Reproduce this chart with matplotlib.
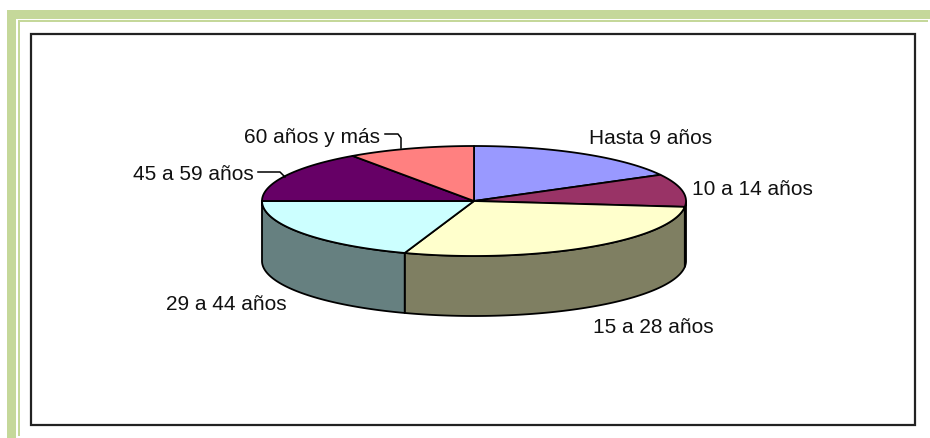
import numpy as np
import matplotlib
matplotlib.use("Agg")
import matplotlib.pyplot as plt
from matplotlib.patches import Rectangle

categories = ["Hasta 9 años", "10 a 14 años", "15 a 28 años", "29 a 44 años", "45 a 59 años", "60 años y más"]
values = [17.1, 9.6, 28.6, 19.7, 15.3, 9.7]
top_colors = ["#9999FF", "#993366", "#FFFFCC", "#CCFFFF", "#660066", "#FF8080"]
wall_colors = ["#4D4D80", "#4D1A33", "#7F7F62", "#668080", "#330033", "#804040"]

# pie geometry in picture pixels
cx, cy = 474, 202
rx, ry = 212, 55
depth = 60

plt.rcParams["font.family"] = ["Liberation Sans", "DejaVu Sans"]

fig = plt.figure(figsize=(9.3, 4.39), dpi=100)
ax = fig.add_axes([0, 0, 1, 1])
ax.set_xlim(0, 930)
ax.set_ylim(439, 0)
ax.axis("off")

# page frames
ax.add_patch(Rectangle((7, 11), 923, 428, fc="#C5D89A", ec="none"))
ax.add_patch(Rectangle((16, 20), 914, 419, fc="white", ec="none"))
ax.add_patch(Rectangle((18, 21), 910, 416, fc="#C5D89A", ec="none"))
ax.add_patch(Rectangle((20, 23), 908, 414, fc="white", ec="none"))
ax.add_patch(Rectangle((30.5, 34.5), 884.5, 392, fc="white", ec="#222222", lw=1.6))


def ellipse_pts(a0, a1):
    t = np.radians(np.linspace(a0, a1, 80))
    return cx + rx * np.cos(t), cy - ry * np.sin(t)


# slices run clockwise from the top of the ellipse
edges = 90 - np.concatenate([[0], np.cumsum(values)]) * 3.6

# side walls: only the part of each slice on the front half shows
for i in range(len(values)):
    a0, a1 = edges[i], edges[i + 1]
    lo, hi = max(a1, -180), min(a0, 0)
    if lo >= hi:
        continue
    x, y = ellipse_pts(hi, lo)
    ax.fill(np.r_[x, x[::-1]], np.r_[y, y[::-1] + depth],
            fc=wall_colors[i], ec="black", lw=1.3, joinstyle="round", zorder=2)

# top faces
for i in range(len(values)):
    x, y = ellipse_pts(edges[i], edges[i + 1])
    ax.fill(np.r_[cx, x], np.r_[cy, y], fc=top_colors[i], ec="black", lw=1.3,
            joinstyle="round", zorder=3)

# labels
label_pos = [(589, 139), (692, 190), (593, 328), (166, 305), (133, 175), (244, 138)]
for name, (lx, ly) in zip(categories, label_pos):
    ax.text(lx, ly, name, fontsize=15, color="#111111", ha="left", va="center", zorder=5)

# leader lines
ax.plot([385, 398, 401, 401], [135, 135, 139, 149], color="black", lw=1.1, zorder=4)
ax.plot([258, 280, 285], [173, 173, 178], color="black", lw=1.1, zorder=4)

fig.savefig("out.png", dpi=100)
